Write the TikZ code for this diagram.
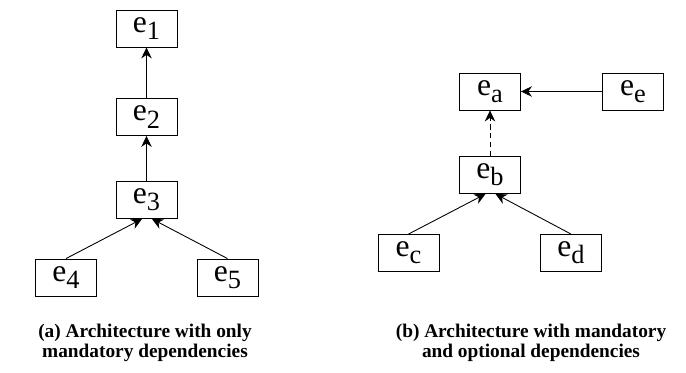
\documentclass[tikz,border=0pt]{standalone}
\usepackage{fontspec}
\setmainfont{Liberation Serif}
\usetikzlibrary{arrows.meta}

\newcommand{\ename}[1]{e\raisebox{-0.5ex}{\fontsize{15}{15}\selectfont #1}}

\tikzset{%
  >={Stealth[length=2.2mm,width=2.1mm]},
  ent/.style={draw, line width=0.5pt, minimum width=1.22cm, minimum height=0.74cm,
    inner sep=0pt, font=\fontsize{18}{18}\selectfont},
  dep/.style={->, line width=0.5pt},
  optdep/.style={->, line width=0.5pt, dash pattern=on 3pt off 2pt},
  capt/.style={align=center, font=\bfseries\fontsize{11}{11}\selectfont}
}

\begin{document}
\begin{tikzpicture}[x=0.02cm,y=-0.02cm]
     \useasboundingbox (0,0) rectangle (686,372);

     % (a) only mandatory dependencies
     \foreach \n/\y in {1/28.5, 2/117, 3/200}
       \node[ent] (e\n) at (146.5,\y) {\ename{\n}};
     \node[ent] (e4) at (66,277.5) {\ename{4}};
     \node[ent] (e5) at (227.5,277.5) {\ename{5}};

     \draw[dep] (e2) -- (e1);
     \draw[dep] (e3) -- (e2);
     \draw[dep] (e4.north) -- ([xshift=-0.09cm]e3.south);
     \draw[dep] (e5.north) -- ([xshift=0.11cm]e3.south);

     \node[capt] (capa) at (145,343) {(a) Architecture with only\\mandatory dependencies};

     % (b) mandatory and optional dependencies
     \node[ent] (ea) at (490,91.5) {\ename{a}};
     \node[ent] (ee) at (633,91.5) {\ename{e}};
     \node[ent] (eb) at (490,175) {\ename{b}};
     \node[ent] (ec) at (408.5,253) {\ename{c}};
     \node[ent] (ed) at (571,253) {\ename{d}};

     \draw[dep] (ee) -- (ea);
     \draw[optdep] (eb) -- (ea);
     \draw[dep] (ec.north) -- ([xshift=-0.09cm]eb.south);
     \draw[dep] (ed.north) -- ([xshift=0.11cm]eb.south);

     \node[capt] (capb) at (531,343) {(b) Architecture with mandatory\\and optional dependencies};

\end{tikzpicture}
\end{document}
